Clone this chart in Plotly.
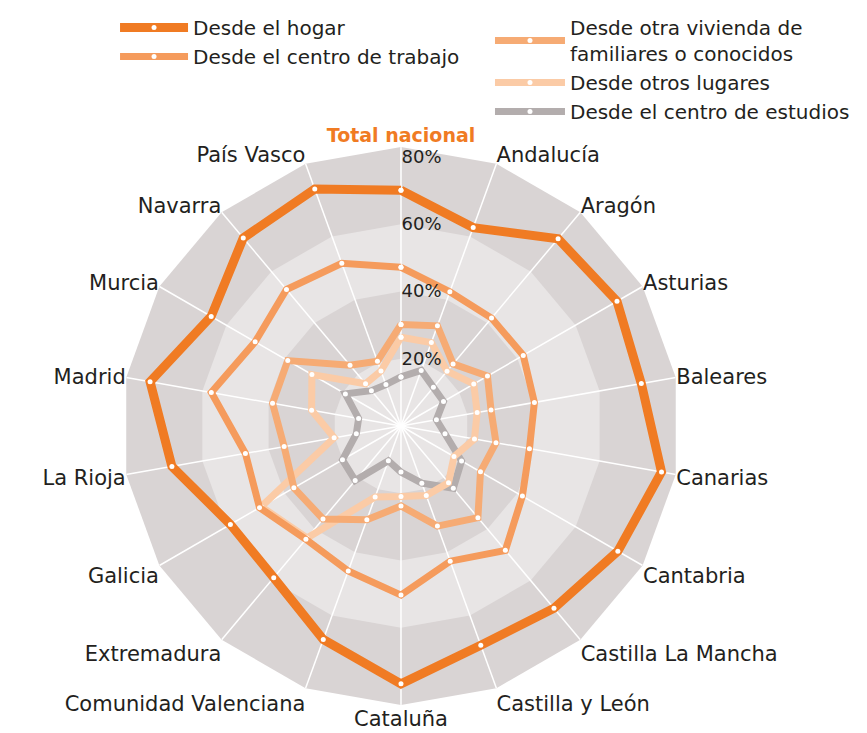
import plotly.graph_objects as go

categories = ["Total nacional", "Andalucía", "Aragón", "Asturias", "Baleares", "Canarias",
              "Cantabria", "Castilla La Mancha", "Castilla y León", "Cataluña",
              "Comunidad Valenciana", "Extremadura", "Galicia", "La Rioja", "Madrid",
              "Murcia", "Navarra", "País Vasco"]

hogar = [70.1, 62.8, 72.7, 74.2, 72.6, 78.7, 74.5, 70.8, 69.4, 76.7, 67.6, 58.9, 58.6, 69.2, 75.8, 65.2, 73.0, 75.0]
trabajo = [47.2, 42.5, 41.9, 42.0, 40.3, 38.8, 41.7, 48.3, 42.8, 50.3, 45.9, 44.0, 48.6, 47.0, 57.3, 50.1, 53.0, 51.5]
otra_vivienda = [30.2, 31.7, 24.1, 29.7, 27.2, 28.7, 27.3, 35.6, 31.7, 23.8, 29.7, 36.1, 36.8, 35.3, 38.8, 38.9, 23.6, 20.5]
otros_lugares = [26.4, 26.4, 21.3, 25.0, 23.0, 22.2, 18.2, 22.0, 22.0, 21.0, 22.5, 43.5, 48.0, 20.2, 27.0, 30.6, 16.4, 17.4]
estudios = [14.6, 17.6, 15.0, 14.6, 10.7, 13.3, 20.8, 24.2, 18.1, 13.7, 11.0, 21.2, 20.1, 13.5, 12.8, 19.1, 13.7, 13.1]

radial_ticks = [20, 40, 60, 80]
radial_ticktext = ["20%", "40%", "60%", "80%"]
outer_limit = 83
band_levels = [60, 40, 20]

series = [
    ("Desde el hogar", hogar, "#f07b23", 9, "legend"),
    ("Desde el centro de trabajo", trabajo, "#f59b5c", 7, "legend"),
    ("Desde otra vivienda de<br>familiares o conocidos", otra_vivienda, "#f6ab74", 7, "legend2"),
    ("Desde otros lugares", otros_lugares, "#fbcba6", 7, "legend2"),
    ("Desde el centro de estudios", estudios, "#b3adad", 7, "legend2"),
]

DARK = "#d9d4d4"
LIGHT = "#e8e5e5"
TEXT = "#231f20"
FONT = "DejaVu Sans"

fig = go.Figure()

closed_cats = categories + [categories[0]]

# background bands (polygonal, alternating)
for i, lvl in enumerate(band_levels):
    fig.add_trace(go.Scatterpolar(
        r=[lvl] * len(closed_cats), theta=closed_cats, mode="lines",
        fill="toself", fillcolor=LIGHT if i % 2 == 0 else DARK,
        line=dict(width=0, color="rgba(0,0,0,0)"),
        hoverinfo="skip", showlegend=False))

# spokes
spoke_r, spoke_t = [], []
for c in categories:
    spoke_r += [0, outer_limit, None]
    spoke_t += [c, c, None]
fig.add_trace(go.Scatterpolar(r=spoke_r, theta=spoke_t, mode="lines",
                              line=dict(color="white", width=1.5),
                              hoverinfo="skip", showlegend=False))

# data series, draw inner first so outer ones sit on top
for name, vals, color, w, lg in reversed(series):
    fig.add_trace(go.Scatterpolar(
        r=vals + [vals[0]], theta=closed_cats, mode="lines+markers", name=name,
        line=dict(color=color, width=w),
        marker=dict(color="white", size=5, line=dict(width=0)),
        legend=lg))

ticktext = ['<span style="color:#f07b23;font-size:19px"><b>Total nacional</b></span>'] + categories[1:]

# page body has an 8px margin: figure is sized to fit the 867x733 window
W, H = 859, 725
TOP = 12
legend_y = 1 + TOP / (H - TOP)

fig.update_layout(
    width=W, height=H,
    margin=dict(l=0, r=0, t=TOP, b=0),
    paper_bgcolor="white",
    font=dict(family=FONT, color=TEXT, size=18),
    polar=dict(
        domain=dict(x=[0.1327, 0.7823], y=[0.0393, 0.8219]),
        gridshape="linear",
        bgcolor=DARK,
        radialaxis=dict(range=[0, outer_limit], tickvals=radial_ticks, ticktext=radial_ticktext,
                        angle=90, tickangle=90, side="clockwise", showline=False, showgrid=False,
                        ticks="", tickfont=dict(size=18, color=TEXT, family=FONT)),
        angularaxis=dict(type="category", categoryarray=categories, direction="clockwise",
                         rotation=90, showline=False, showgrid=False, ticks="",
                         tickmode="array", tickvals=categories, ticktext=ticktext,
                         tickfont=dict(size=21, color=TEXT, family=FONT)),
    ),
    legend=dict(x=0.1246, y=legend_y, xanchor="left", yanchor="top", traceorder="reversed",
                font=dict(size=20, color=TEXT, family=FONT), itemwidth=68,
                bgcolor="rgba(0,0,0,0)", tracegroupgap=0),
    legend2=dict(x=0.5611, y=legend_y, xanchor="left", yanchor="top", traceorder="reversed",
                 font=dict(size=20, color=TEXT, family=FONT), itemwidth=70,
                 bgcolor="rgba(0,0,0,0)", tracegroupgap=0),
    showlegend=True,
)

fig.write_html("out.html")
